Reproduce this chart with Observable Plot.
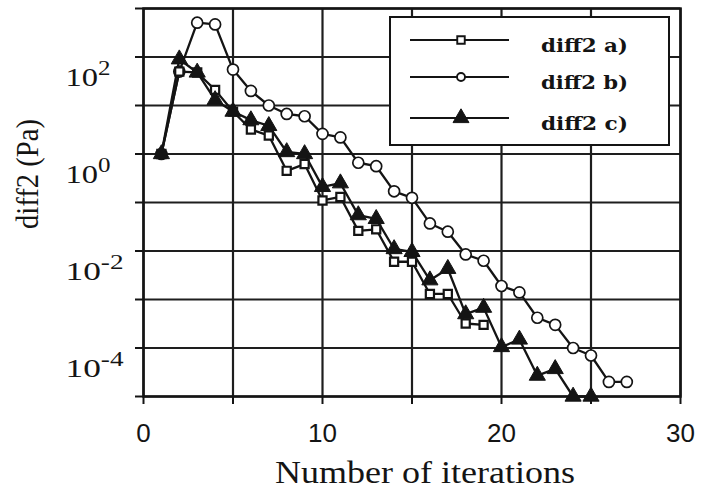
<!DOCTYPE html>
<html><head><meta charset="utf-8">
<script src="https://cdn.jsdelivr.net/npm/d3@7"></script>
<script src="https://cdn.jsdelivr.net/npm/@observablehq/plot@0.6"></script>
<style>
html,body{margin:0;padding:0;background:#fff;}
#chart{width:708px;height:490px;}
</style>
</head><body><div id="chart"></div>
<script>
// ---- data ----
const iterA = [1,2,3,4,5,6,7,8,9,10,11,12,13,14,15,16,17,18,19];
const diffA = [1,50,48,21,7.5,3.2,2.4,0.45,0.62,0.11,0.13,0.026,0.028,0.006,0.006,0.0013,0.0013,0.00032,0.0003];

const iterB = [1,2,3,4,5,6,7,8,9,10,11,12,13,14,15,16,17,18,19,20,21,22,23,24,25,26,27];
const diffB = [1,50,510,470,55,20,10,6.7,6,2.6,2.2,0.66,0.56,0.17,0.125,0.037,0.025,0.0085,0.0063,0.0019,0.0014,0.00042,0.0003,0.0001,0.00007,0.00002,0.00002];

const iterC = [1,2,3,4,5,6,7,8,9,10,11,12,13,14,15,16,17,18,19,20,21,22,23,24,25];
const diffC = [1,90,48,13,7.5,5,3.8,1.1,1.0,0.21,0.25,0.055,0.046,0.011,0.0096,0.0025,0.0043,0.0005,0.00068,0.000105,0.00015,0.000027,0.000037,0.00001,0.00001];

const seriesNames = ["diff2 a)", "diff2 b)", "diff2 c)"];
const xTicks = [0,5,10,15,20,25,30];
const xTickLabels = [0,10,20,30];
const yTicks = [1e-5,1e-4,1e-3,1e-2,1e-1,1e0,1e1,1e2,1e3];
const yTickLabels = [1e2,1e0,1e-2,1e-4];
const xTitle = "Number of iterations";
const yTitle = "diff2 (Pa)";

const rowsA = iterA.map((x,i)=>({x, y: diffA[i]}));
const rowsB = iterB.map((x,i)=>({x, y: diffB[i]}));
const rowsC = iterC.map((x,i)=>({x, y: diffC[i]}));

const ink = "#141414";
const grid = "#1e1e1e";
const serif = "'Liberation Serif', 'Times New Roman', Times, serif";
const sans = "'Liberation Sans', Arial, Helvetica, sans-serif";

const svg = Plot.plot({
  width: 708, height: 490,
  marginLeft: 143, marginRight: 28, marginTop: 8, marginBottom: 94,
  x: {domain: [0,30], label: null},
  y: {type: "log", domain: [1e-5, 1e3], label: null},
  style: {background: "#fff", color: ink},
  marks: [
    Plot.gridX({ticks: xTicks, stroke: grid, strokeOpacity: 1, strokeWidth: 2.2}),
    Plot.gridY({ticks: yTicks, stroke: grid, strokeOpacity: 1, strokeWidth: 2.2}),
    Plot.frame({stroke: ink, strokeWidth: 2.5}),
    Plot.axisX({ticks: xTicks, tickSize: 8, tickFormat: () => "", strokeWidth: 2, label: null}),
    Plot.axisX({ticks: xTickLabels, tickSize: 0, tickPadding: 27, tickFormat: d => String(d),
      fontSize: 26, fontFamily: sans, label: null}),
    Plot.axisY({ticks: yTicks, tickSize: 8, tickFormat: () => "", strokeWidth: 2, label: null}),
    Plot.text(yTickLabels, {y: d => d, frameAnchor: "left", dx: -78, textAnchor: "start",
      text: d => "10^" + Math.round(Math.log10(d)), fontSize: 26, fontFamily: serif, fill: ink}),
    Plot.line(rowsB, {x: "x", y: "y", stroke: ink, strokeWidth: 2.3}),
    Plot.line(rowsA, {x: "x", y: "y", stroke: ink, strokeWidth: 2.3}),
    Plot.line(rowsC, {x: "x", y: "y", stroke: ink, strokeWidth: 2.3}),
    Plot.dot(rowsB, {x: "x", y: "y", symbol: "circle", r: 5.5, fill: "#fff", stroke: ink, strokeWidth: 1.7}),
    Plot.dot(rowsA, {x: "x", y: "y", symbol: "square", r: 4.6, fill: "#fff", stroke: ink, strokeWidth: 2.2}),
    Plot.dot(rowsC, {x: "x", y: "y", symbol: "triangle", r: 6, fill: ink, stroke: ink, strokeWidth: 1})
  ]
});

const s = d3.select(svg);

// superscript exponents for y tick labels
s.selectAll("text").each(function(){
  const t = this.textContent;
  if (!/^10\^/.test(t)) return;
  const exp = t.slice(3);
  const el = d3.select(this);
  el.attr("dy", null).text("");
  el.append("tspan").attr("dy", 21).text("10");
  el.append("tspan").attr("dy", -11).attr("font-size", 20).text(exp);
  el.attr("textLength", exp.length > 1 ? 58 : 45).attr("lengthAdjust", "spacingAndGlyphs");
});

// axis titles
s.append("text")
  .attr("x", 425).attr("y", 483)
  .attr("text-anchor", "middle")
  .attr("font-family", serif)
  .attr("font-size", 32).attr("fill", ink)
  .attr("textLength", 300).attr("lengthAdjust", "spacingAndGlyphs")
  .text(xTitle);
s.append("text")
  .attr("transform", "translate(38,174) rotate(-90)")
  .attr("text-anchor", "middle")
  .attr("font-family", serif)
  .attr("font-size", 32).attr("fill", ink)
  .attr("textLength", 110).attr("lengthAdjust", "spacingAndGlyphs")
  .text(yTitle);

// legend
const lg = s.append("g");
lg.append("rect").attr("x", 390).attr("y", 17).attr("width", 279).attr("height", 128)
  .attr("fill", "#fff").attr("stroke", ink).attr("stroke-width", 2);
const rowY = [40, 77, 118];
const syms = [d3.symbolSquare, d3.symbolCircle, d3.symbolTriangle];
const symSize = [56, 50, 110];
seriesNames.forEach((name, i) => {
  const y = rowY[i];
  lg.append("line").attr("x1", 410).attr("x2", 509).attr("y1", y).attr("y2", y)
    .attr("stroke", ink).attr("stroke-width", 2);
  lg.append("path").attr("transform", `translate(461,${y})`)
    .attr("d", d3.symbol(syms[i], symSize[i])())
    .attr("fill", i === 2 ? ink : "#fff").attr("stroke", ink).attr("stroke-width", i === 2 ? 1 : 1.9);
  lg.append("text").attr("x", 541).attr("y", y + 12)
    .attr("text-anchor", "start")
    .attr("font-family", "'DejaVu Serif', serif").attr("font-weight", "bold")
    .attr("font-size", 19).attr("fill", ink)
    .attr("textLength", 87).attr("lengthAdjust", "spacingAndGlyphs")
    .text(name);
});

document.getElementById("chart").appendChild(svg);
</script>
</body></html>
